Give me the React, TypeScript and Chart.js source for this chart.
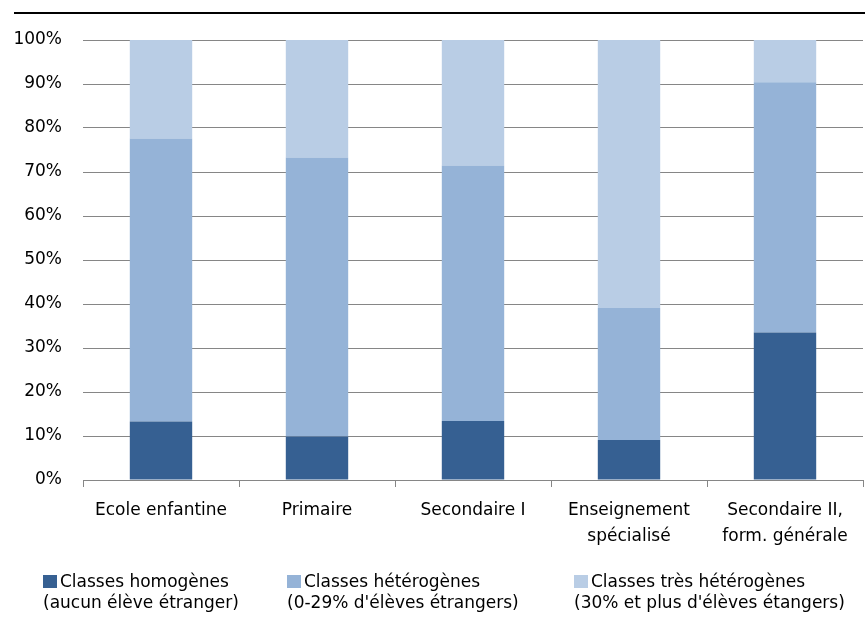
import React, { useEffect, useRef } from "react";
import { Chart, registerables } from "chart.js";

Chart.register(...registerables);

const categories: (string | string[])[] = [
  "Ecole enfantine",
  "Primaire",
  "Secondaire I",
  ["Enseignement", "spécialisé"],
  ["Secondaire II,", "form. générale"],
];

const homogeneous = [13.3, 9.9, 13.4, 9.1, 33.5];
const heterogeneous = [64.3, 63.4, 58.1, 30.0, 56.9];
const veryHeterogeneous = [22.4, 26.7, 28.5, 60.9, 9.6];

const seriesLines = [
  ["Classes homogènes", "(aucun élève étranger)"],
  ["Classes hétérogènes", "(0-29% d'élèves étrangers)"],
  ["Classes très hétérogènes", "(30% et plus d'élèves étangers)"],
];

const seriesColors = ["#366092", "#95B3D7", "#B9CDE5"];

const FONT = "DejaVu Sans";
const FONT_SIZE = 17;
const LEGEND_X = [43, 287, 574];

const decorPlugin = {
  id: "decor",
  beforeDraw(chart: any) {
    const ctx = chart.ctx;
    ctx.save();
    ctx.fillStyle = "#000";
    ctx.fillRect(14, 12, 851, 2);
    ctx.restore();
  },
  afterDraw(chart: any) {
    const ctx = chart.ctx;
    ctx.save();
    ctx.font = `${FONT_SIZE}px "${FONT}"`;
    ctx.textBaseline = "alphabetic";
    ctx.textAlign = "left";
    chart.data.datasets.forEach((ds: any, i: number) => {
      const x = LEGEND_X[i];
      ctx.fillStyle = ds.backgroundColor;
      ctx.fillRect(x, 575, 14, 13);
      ctx.fillStyle = "#000";
      const lines = seriesLines[i];
      ctx.fillText(lines[0], x + 17, 587);
      ctx.fillText(lines[1], x, 608);
    });
    ctx.restore();
  },
};

export default function App() {
  const ref = useRef<HTMLCanvasElement | null>(null);
  useEffect(() => {
    if (!ref.current) return;
    const chart = new Chart(ref.current, {
      type: "bar",
      data: {
        labels: categories,
        datasets: [homogeneous, heterogeneous, veryHeterogeneous].map((d, i) => ({
          label: seriesLines[i].join(" "),
          data: d,
          backgroundColor: seriesColors[i],
          borderWidth: 0,
          categoryPercentage: 1,
          barPercentage: 0.4,
        })),
      },
      options: {
        responsive: false,
        animation: false,
        devicePixelRatio: 1,
        layout: { padding: { top: 40, right: 5, bottom: 0, left: 0 } },
        plugins: {
          legend: { display: false },
          tooltip: { enabled: false },
        },
        scales: {
          x: {
            stacked: true,
            afterFit: (s: any) => {
              s.height = 139;
            },
            grid: {
              offset: true,
              drawOnChartArea: false,
              drawTicks: true,
              tickLength: 7,
              color: "#868686",
            },
            border: { display: true, color: "#868686", width: 1 },
            ticks: {
              color: "#000",
              padding: 11,
              maxRotation: 0,
              autoSkip: false,
              font: { family: FONT, size: FONT_SIZE, lineHeight: 1.5 },
            },
          },
          y: {
            stacked: true,
            min: 0,
            max: 100,
            afterFit: (s: any) => {
              s.width = 83;
            },
            grid: { color: "#868686", drawTicks: false },
            border: { display: false },
            ticks: {
              stepSize: 10,
              padding: 21,
              color: "#000",
              font: { family: FONT, size: FONT_SIZE },
              callback: (v: any) => `${v}%`,
            },
          },
        },
      },
      plugins: [decorPlugin],
    });
    return () => chart.destroy();
  }, []);
  return (
    <div style={{ position: "absolute", left: 0, top: 0, width: 868, height: 619, background: "#fff" }}>
      <canvas ref={ref} width={868} height={619} />
    </div>
  );
}
